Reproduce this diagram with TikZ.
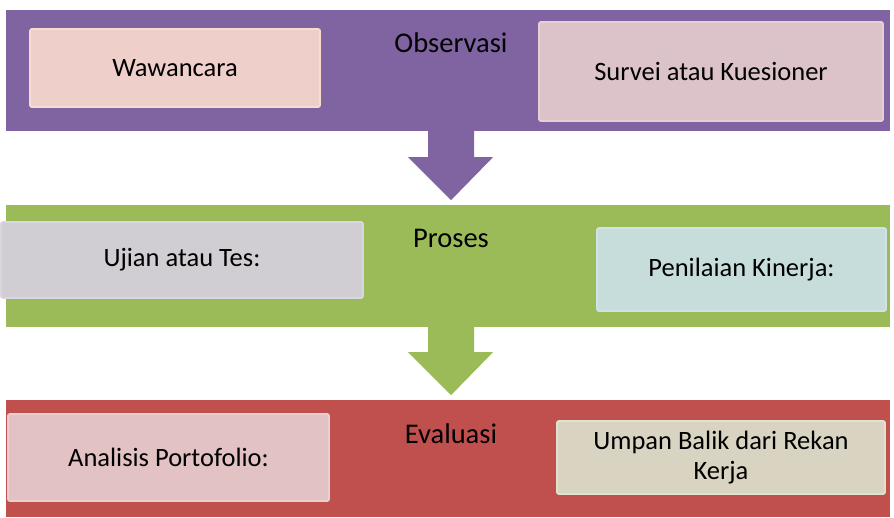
\documentclass[tikz,border=0pt]{standalone}
\usepackage{fontspec}
\setmainfont{Carlito}
\usetikzlibrary{calc}
\definecolor{obsc}{HTML}{8064A2}
\definecolor{proc}{HTML}{9BBB59}
\definecolor{evac}{HTML}{C0504D}
\definecolor{wawf}{HTML}{EFCFC9}\definecolor{wawd}{HTML}{F7DCD2}
\definecolor{surf}{HTML}{DCC3CA}\definecolor{surd}{HTML}{E6D0D3}
\definecolor{ujif}{HTML}{D0CED3}\definecolor{ujid}{HTML}{D9D6E2}
\definecolor{penf}{HTML}{C6DDDB}\definecolor{pend}{HTML}{D0E2E6}
\definecolor{anaf}{HTML}{E2C2C2}\definecolor{anad}{HTML}{E8D0D0}
\definecolor{umpf}{HTML}{D9D3C1}\definecolor{umpd}{HTML}{E0E3CC}
\begin{document}
\begin{tikzpicture}
  [x=1pt,y=-1pt
  ,band/.style={rectangle,inner sep=0pt,minimum width=884pt}
  ,item/.style={rectangle,rounded corners=2pt,line width=1.8pt,inner sep=2pt,
     align=center,font=\fontsize{26.5}{30}\selectfont}
  ,title/.style={inner sep=0pt,font=\fontsize{28.5}{32}\selectfont}]
\useasboundingbox (0,0) rectangle (894,517);
\node at (448,70.5) (obs) [band,fill=obsc,minimum height=121pt] {};
\node at (448,266) (pro) [band,fill=proc,minimum height=122pt] {};
\node at (448,458.5) (eva) [band,fill=evac,minimum height=117pt] {};
\node at (451,43) (obst) [title] {Observasi};
\node at (451,238) (prot) [title] {Proses};
\node at (451,434) (evat) [title] {Evaluasi};
%
\node at (175,68) (waw) [item,fill=wawf,draw=wawd,minimum width=290pt,minimum height=78pt] {Wawancara};
\node at (711,71.5) (sur) [item,fill=surf,draw=surd,minimum width=344pt,minimum height=99pt] {Survei atau Kuesioner};
\node at (182,260) (uji) [item,fill=ujif,draw=ujid,minimum width=362pt,minimum height=76pt] {Ujian atau Tes:};
\node at (741.5,269.5) (pen) [item,fill=penf,draw=pend,minimum width=289pt,minimum height=83pt] {Penilaian Kinerja:};
\node at (168.5,457.5) (ana) [item,fill=anaf,draw=anad,minimum width=321pt,minimum height=87pt] {Analisis Portofolio:};
\node at (721,457.5) (ump) [item,fill=umpf,draw=umpd,minimum width=328pt,minimum height=73pt] {Umpan Balik dari Rekan\\Kerja};
%
\fill[obsc] ($(obs.south)+(-20,-1)$) -- ++(0,27) -- ++(-20,0) -- ($(obs.south)+(3,69)$)
  -- ($(obs.south)+(45,26)$) -- ++(-19,0) -- ++(0,-27) -- cycle;
\fill[proc] ($(pro.south)+(-20,-1)$) -- ++(0,26) -- ++(-20,0) -- ($(pro.south)+(3,68)$)
  -- ($(pro.south)+(45,25)$) -- ++(-19,0) -- ++(0,-26) -- cycle;
\end{tikzpicture}
\end{document}
